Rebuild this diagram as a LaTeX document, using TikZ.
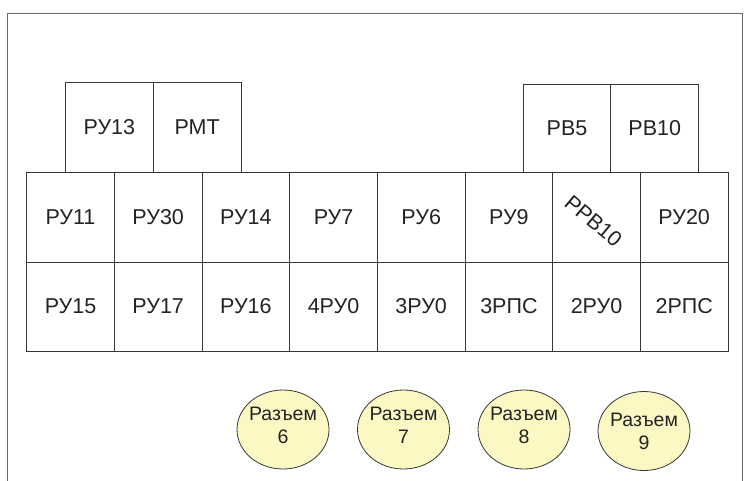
\documentclass[tikz,border=0pt]{standalone}
\usepackage{fontspec}
\setmainfont{Liberation Sans}
\usetikzlibrary{shapes.geometric}
\definecolor{linegray}{RGB}{55,55,55}
\definecolor{framegray}{RGB}{105,105,105}
\definecolor{elfill}{RGB}{251,248,196}
\definecolor{txt}{RGB}{35,35,35}
\begin{document}
\begin{tikzpicture}[x=1pt,y=-1pt,
  cell/.style={draw=linegray, line width=0.9pt, minimum width=87.7pt, minimum height=90pt,
    inner sep=0pt, font=\fontsize{21.5}{24}\selectfont, text=txt},
  lowcell/.style={cell, minimum height=89pt},
  topcell/.style={cell, minimum height=88pt},
  ell/.style={ellipse, draw=linegray, line width=0.8pt, fill=elfill, minimum width=92pt,
    minimum height=79pt, inner sep=0pt},
  etext/.style={align=center, font=\fontsize{19.5}{23}\selectfont, text=txt, inner sep=0pt}]
\useasboundingbox (0,0) rectangle (752,481);
\draw[framegray, line width=1pt] (7,481) -- (7,14) -- (742,14) -- (742,481);
% upper boxes
\node[cell] (ru13) at (109.4,127) {РУ13};
\node[cell] (rmt)  at (197.1,127) {РМТ};
\node[topcell] (rb5)  at (567.0,128) {РВ5};
\node[topcell] (rb10) at (654.7,128) {РВ10};
% row 1
\node[cell] (ru11) at (70.5,217) {РУ11};
\node[cell] (ru30) at (158.2,217) {РУ30};
\node[cell] (ru14) at (245.9,217) {РУ14};
\node[cell] (ru7)  at (333.5,217) {РУ7};
\node[cell] (ru6)  at (421.2,217) {РУ6};
\node[cell] (ru9)  at (508.9,217) {РУ9};
\node[cell] (rrb10) at (596.5,217) {};
\node[font=\fontsize{21.5}{24}\selectfont, text=txt, rotate=-40, inner sep=0pt] (rrb10t) at ([xshift=-3pt,yshift=-4pt]rrb10.center) {РРВ10};
\node[cell] (ru20) at (684.2,217) {РУ20};
% row 2
\node[lowcell] (ru15) at (70.5,306.5) {РУ15};
\node[lowcell] (ru17) at (158.2,306.5) {РУ17};
\node[lowcell] (ru16) at (245.9,306.5) {РУ16};
\node[lowcell] (ru04) at (333.5,306.5) {4РУ0};
\node[lowcell] (ru03) at (421.2,306.5) {3РУ0};
\node[lowcell] (rps3) at (508.9,306.5) {3РПС};
\node[lowcell] (ru02) at (596.5,306.5) {2РУ0};
\node[lowcell] (rps2) at (684.2,306.5) {2РПС};
% connectors (ellipses)
\node[ell] (r6) at (283,429.5) {};
\node[ell] (r7) at (403.5,429.5) {};
\node[ell] (r8) at (524,429.5) {};
\node[ell] (r9) at (644,431) {};
\node[etext] (r6t) at ([yshift=4pt]r6.center) {Разъем\\6};
\node[etext] (r7t) at ([yshift=4pt]r7.center) {Разъем\\7};
\node[etext] (r8t) at ([yshift=4pt]r8.center) {Разъем\\8};
\node[etext] (r9t) at (r9.center) {Разъем\\9};
\end{tikzpicture}
\end{document}
